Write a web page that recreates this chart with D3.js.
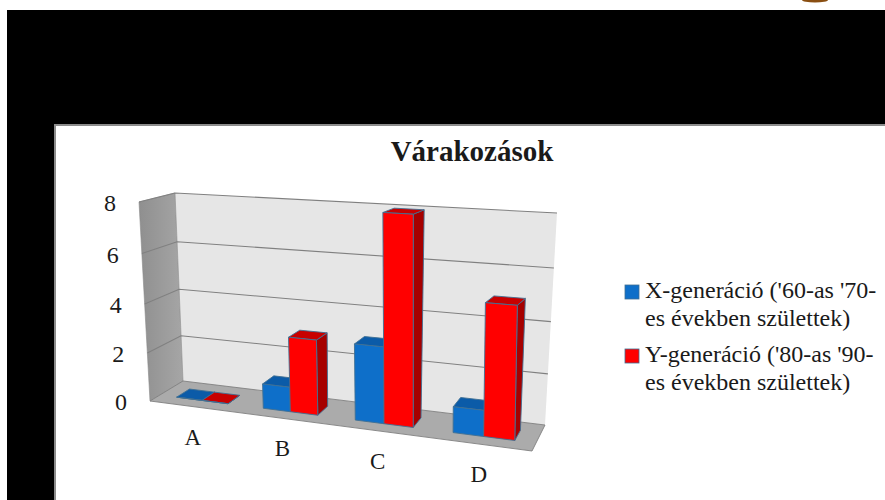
<!DOCTYPE html>
<html>
<head>
<meta charset="utf-8">
<script src="https://cdnjs.cloudflare.com/ajax/libs/d3/7.8.5/d3.min.js"></script>
<style>
  html, body { margin: 0; padding: 0; background: #fff; }
  svg { display: block; }
  text { font-family: "Liberation Serif", "DejaVu Serif", serif; fill: #1a1a1a; }
</style>
</head>
<body>
<svg id="chart" width="885" height="500"></svg>
<script>
const categories = ["A", "B", "C", "D"];
const seriesNames = ["X-generáció", "Y-generáció"];
const seriesXValues = [0, 1, 3, 1];
const seriesYValues = [0, 3, 8, 5];
const yTicks = [0, 2, 4, 6, 8];
const legendLines = [
  ["X-generáció ('60-as '70-", "es években születtek)"],
  ["Y-generáció ('80-as '90-", "es években születtek)"]
];
const titleText = "Várakozások";

// Corners of the 3D plot box on screen
const box = {
  f0: [150, 401], f1: [532, 451], b0: [183, 381], b1: [545, 425],
  ft0: [139, 202], ft1: [534, 225], bt0: [175, 193], bt1: [557, 213]
};
const mix = (a, b, t) => [a[0] + (b[0] - a[0]) * t, a[1] + (b[1] - a[1]) * t];

// Foreshortening along the category axis and the value axis
const foreshorten = (t, k) => t / (t + k * (1 - t));

const x0 = d3.scaleBand().domain(categories).range([0, 1]).paddingInner(0.4).paddingOuter(0.2);
const x1 = d3.scaleBand().domain(seriesNames).range([0, x0.bandwidth()]);
const h = d3.scaleLinear().domain([0, 8]).range([0, 1]);

function project(t, d, v) {
  const u = foreshorten(t, 1.13), k = foreshorten(h(v), 1.05);
  const bottom = mix(mix(box.f0, box.f1, u), mix(box.b0, box.b1, u), d);
  const top = mix(mix(box.ft0, box.ft1, u), mix(box.bt0, box.bt1, u), d);
  return mix(bottom, top, k);
}
const poly = pts => "M" + pts.map(p => p[0].toFixed(2) + "," + p[1].toFixed(2)).join("L") + "Z";

const svg = d3.select("#chart");
const defs = svg.append("defs");
const wallGrad = defs.append("linearGradient").attr("id", "sideWall").attr("x1", 0).attr("x2", 1);
wallGrad.append("stop").attr("offset", 0).attr("stop-color", "#8f8f8f");
wallGrad.append("stop").attr("offset", 1).attr("stop-color", "#a6a6a6");

// Slide background with the bevelled edge of the chart panel
svg.append("rect").attr("width", 885).attr("height", 500).attr("fill", "#fff");
svg.append("rect").attr("x", 7).attr("y", 10).attr("width", 878).attr("height", 490).attr("fill", "#000");
svg.append("rect").attr("x", 54).attr("y", 124).attr("width", 831).attr("height", 376).attr("fill", "#8c8c8c");
svg.append("rect").attr("x", 56).attr("y", 126).attr("width", 829).attr("height", 374).attr("fill", "#fff");
svg.append("ellipse").attr("cx", 815).attr("cy", 0).attr("rx", 13).attr("ry", 2.5).attr("fill", "#8a4f12");

svg.append("text").attr("x", 472).attr("y", 161).attr("text-anchor", "middle")
  .attr("font-size", 29).attr("font-weight", "bold").text(titleText);

// Walls and floor
const plot = svg.append("g");
plot.append("path").attr("d", poly([box.b0, box.b1, box.bt1, box.bt0]))
  .attr("fill", "#e6e6e6");
plot.append("path").attr("d", poly([box.f0, box.b0, box.bt0, box.ft0]))
  .attr("fill", "url(#sideWall)").attr("stroke", "#8a8a8a").attr("stroke-width", 0.6);
plot.append("path").attr("d", poly([box.f0, box.f1, box.b1, box.b0]))
  .attr("fill", "#ababab").attr("stroke", "#808080").attr("stroke-width", 0.9);

// Gridlines run along the side wall and then across the back wall
plot.selectAll("path.grid").data(yTicks.filter(v => v > 0)).join("path")
  .attr("class", "grid")
  .attr("fill", "none").attr("stroke", "#808080").attr("stroke-width", 1.1)
  .attr("d", v => d3.line()([project(0, 0, v), project(0, 1, v), project(1, 1, v)]));

// Value axis labels
svg.selectAll("text.ytick").data(yTicks).join("text")
  .attr("class", "ytick").attr("font-size", 24).attr("text-anchor", "middle")
  .attr("x", v => project(0, 0, v)[0] - 29)
  .attr("y", v => project(0, 0, v)[1] + 9)
  .text(v => v);

// Category labels
svg.selectAll("text.xtick").data(categories).join("text")
  .attr("class", "xtick").attr("font-size", 23).attr("text-anchor", "middle")
  .attr("x", c => project(x0(c) + x0.bandwidth() / 2, 0, 0)[0])
  .attr("y", c => project(x0(c) + x0.bandwidth() / 2, 0, 0)[1] + 38)
  .text(c => c);

// Bars: left-to-right so adjoining faces overlap correctly
const palette = [
  { front: "#0e6fc9", top: "#0b5ba8", side: "#094c8c" },
  { front: "#ff0000", top: "#c80000", side: "#a60000" }
];
const zNear = 0.3, zFar = 0.7;
const barRows = [];
categories.forEach((c, i) => {
  [seriesXValues[i], seriesYValues[i]].forEach((v, s) => {
    const a = x0(c) + x1(seriesNames[s]);
    barRows.push({ c, v, s, a, b: a + x1.bandwidth() });
  });
});
const bars = plot.selectAll("g.bar").data(barRows).join("g").attr("class", "bar")
  .attr("stroke", "#3f6f93").attr("stroke-width", 0.9).attr("stroke-linejoin", "round");
bars.append("path").attr("fill", d => palette[d.s].side).attr("d", d => poly([
  project(d.b, zNear, 0), project(d.b, zFar, 0), project(d.b, zFar, d.v), project(d.b, zNear, d.v)]));
bars.append("path").attr("fill", d => palette[d.s].top).attr("d", d => poly([
  project(d.a, zNear, d.v), project(d.b, zNear, d.v), project(d.b, zFar, d.v), project(d.a, zFar, d.v)]));
bars.append("path").attr("fill", d => palette[d.s].front).attr("d", d => poly([
  project(d.a, zNear, 0), project(d.b, zNear, 0), project(d.b, zNear, d.v), project(d.a, zNear, d.v)]));

// Legend
const legend = svg.selectAll("g.legend").data(seriesNames).join("g").attr("class", "legend")
  .attr("transform", (d, i) => `translate(625,${285 + i * 64})`);
legend.append("rect").attr("width", 14).attr("height", 14)
  .attr("fill", (d, i) => palette[i].front).attr("stroke", "#3f6f93").attr("stroke-width", 0.8);
legend.each(function (d, i) {
  d3.select(this).selectAll("text").data(legendLines[i]).join("text")
    .attr("x", 20).attr("y", (l, j) => 13 + j * 28).attr("font-size", 24).text(l => l);
});
</script>
</body>
</html>
